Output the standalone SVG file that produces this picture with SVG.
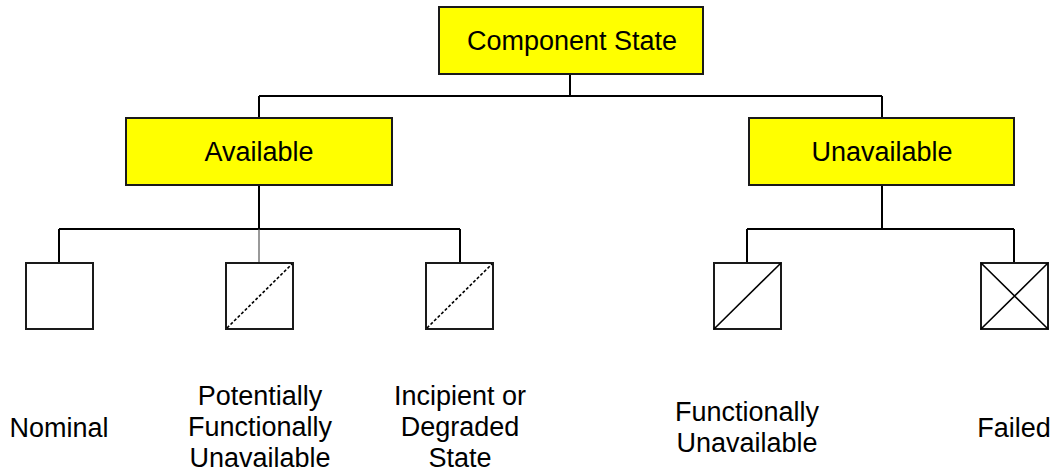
<svg xmlns="http://www.w3.org/2000/svg" width="1054" height="473" viewBox="0 0 1054 473">
<style>
.box{fill:#ffff00;stroke:#1a1a1a;stroke-width:2}
.sq{fill:#ffffff;stroke:#1a1a1a;stroke-width:2}
.ln{stroke:#000;stroke-width:2;fill:none}
.thin{stroke:#555;stroke-width:1.2;fill:none}
.dash{stroke:#000;stroke-width:1.6;stroke-dasharray:3 2;fill:none}
.diag{stroke:#000;stroke-width:1.6;fill:none}
text{font-family:"Liberation Sans",Arial,sans-serif;font-size:27px;fill:#000;text-anchor:middle}
</style>
<rect width="1054" height="473" fill="#ffffff"/>
<g id="connectors">
<path class="ln" d="M570 74V96M259 96H882M259 96V118M882 96V118"/>
<path class="ln" d="M259 185V229M59 229H460M59 229V263M460 229V263"/>
<path class="thin" d="M259 229V263"/>
<path class="ln" d="M882 185V229M747 229H1014M747 229V263M1014 229V263"/>
</g>
<g id="component-state">
<rect class="box" x="439" y="7" width="264" height="67"/>
<text x="572" y="50">Component State</text>
</g>
<g id="available">
<rect class="box" x="126" y="118" width="266" height="67"/>
<text x="259" y="161">Available</text>
</g>
<g id="unavailable">
<rect class="box" x="749" y="118" width="265" height="67"/>
<text x="882" y="161">Unavailable</text>
</g>
<g id="nominal">
<rect class="sq" x="26" y="263" width="67" height="66"/>
<text x="59" y="437">Nominal</text>
</g>
<g id="potentially-functionally-unavailable">
<rect class="sq" x="226" y="263" width="67" height="66"/>
<path class="dash" d="M227 328L292 264"/>
<text x="260" y="405">Potentially</text>
<text x="260" y="436">Functionally</text>
<text x="260" y="467">Unavailable</text>
</g>
<g id="incipient-degraded">
<rect class="sq" x="426" y="263" width="67" height="66"/>
<path class="dash" d="M427 328L492 264"/>
<text x="460" y="405">Incipient or</text>
<text x="460" y="436">Degraded</text>
<text x="460" y="467">State</text>
</g>
<g id="functionally-unavailable">
<rect class="sq" x="714" y="263" width="67" height="66"/>
<path class="diag" d="M714 329L781 263"/>
<text x="747" y="421">Functionally</text>
<text x="747" y="452">Unavailable</text>
</g>
<g id="failed">
<rect class="sq" x="981" y="263" width="67" height="66"/>
<path class="diag" d="M981 329L1048 263M981 263L1048 329"/>
<text x="1014" y="437">Failed</text>
</g>
</svg>
